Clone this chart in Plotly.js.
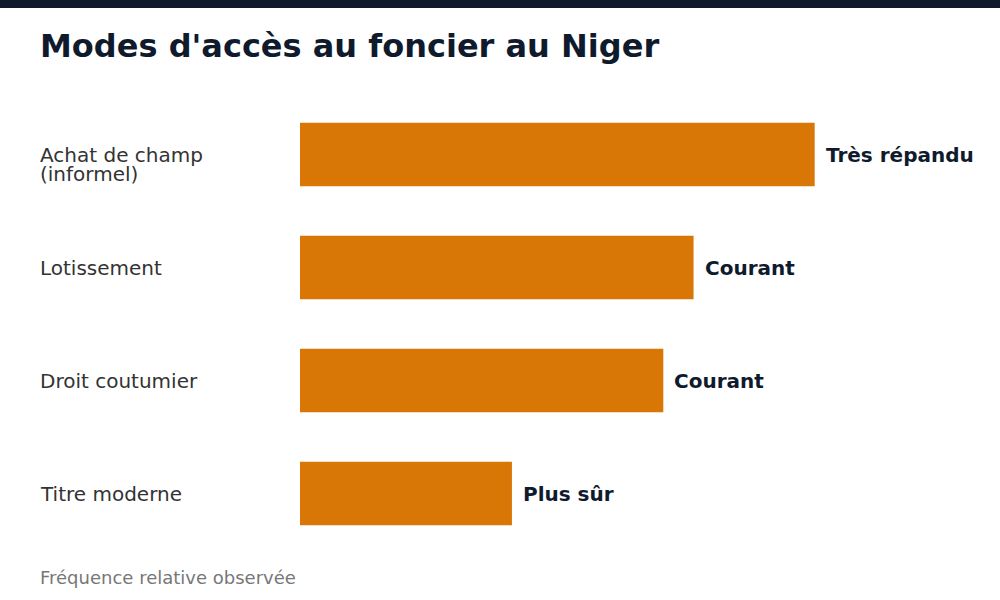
<!DOCTYPE html>
<html>
<head>
<meta charset="utf-8">
<script src="https://cdn.plot.ly/plotly-3.0.1.min.js"></script>
<style>html,body{margin:0;padding:0;background:#fff;}#chart{width:1000px;height:600px;}</style>
</head>
<body>
<div id="chart"></div>
<script>
const categories = ["Achat de champ<br>(informel)", "Lotissement", "Droit coutumier", "Titre moderne"];
const values = [85, 65, 60, 35];
const valueLabels = ["Très répandu", "Courant", "Courant", "Plus sûr"];
const titleText = "Modes d'accès au foncier au Niger";
const footerText = "Fréquence relative observée";

const W = 1000, H = 600;
const M = {l: 300, r: 40, t: 98, b: 50};
const pw = W - M.l - M.r, ph = H - M.t - M.b;
const px = x => (x - M.l) / pw;
const py = y => (H - M.b - y) / ph;

const navy = "#0f1b2d";
const font = "DejaVu Sans, sans-serif";

const annotations = [];
categories.forEach((c, i) => {
  c.split("<br>").forEach((line, k) => {
    annotations.push({
      xref: "paper", yref: "y", x: px(40), y: c, xanchor: "left", yanchor: "middle",
      xshift: -2, yshift: -19 * k,
      text: line, showarrow: false, align: "left",
      font: {family: font, size: 20, color: "#333333"}
    });
  });
  annotations.push({
    xref: "x", yref: "y", x: values[i], y: c, xanchor: "left", yanchor: "middle",
    xshift: 9, text: "<b>" + valueLabels[i] + "</b>", showarrow: false,
    font: {family: font, size: 20, color: navy}
  });
});
annotations.push({
  xref: "paper", yref: "paper", x: px(40), y: py(577), xanchor: "left", yanchor: "middle",
  xshift: -2, text: footerText, showarrow: false, font: {family: font, size: 18, color: "#777777"}
});

const trace = {
  type: "bar", orientation: "h", x: values, y: categories,
  marker: {color: "#D97706"}, hoverinfo: "none"
};

const layout = {
  width: W, height: H,
  margin: M,
  paper_bgcolor: "#ffffff", plot_bgcolor: "#ffffff",
  bargap: 0.44,
  showlegend: false,
  font: {family: font},
  title: {
    text: "<b>" + titleText + "</b>", xref: "container", yref: "container",
    x: 40 / W, xanchor: "left", y: 1 - 46 / H, yanchor: "middle",
    font: {family: font, size: 32, color: navy}
  },
  xaxis: {range: [0, 109], visible: false, fixedrange: true},
  yaxis: {autorange: "reversed", showticklabels: false, showgrid: false, zeroline: false, showline: false, ticks: "", fixedrange: true},
  shapes: [{
    type: "rect", xref: "paper", yref: "paper",
    x0: px(0), x1: px(W), y0: py(8), y1: py(0),
    fillcolor: navy, line: {width: 0}, layer: "above"
  }],
  annotations: annotations
};

Plotly.newPlot("chart", [trace], layout, {displayModeBar: false, staticPlot: true});
</script>
</body>
</html>
